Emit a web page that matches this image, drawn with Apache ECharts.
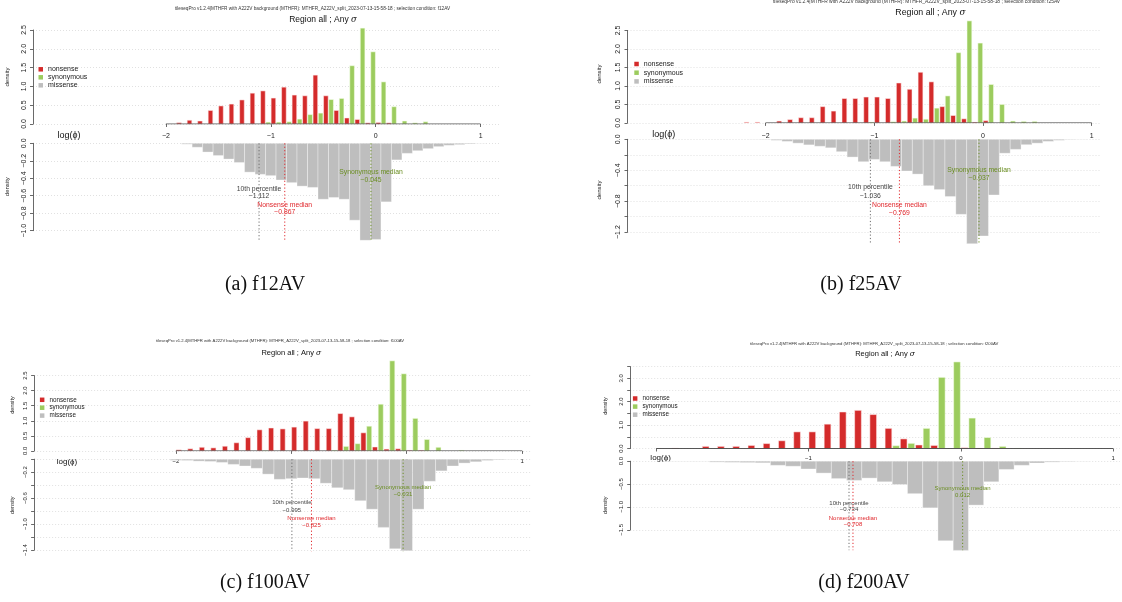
<!DOCTYPE html>
<html>
<head>
<meta charset="utf-8">
<script src="https://cdn.jsdelivr.net/npm/echarts@6/dist/echarts.min.js"></script>
<style>
  html, body { margin: 0; background: #fff; }
  #chart { width: 1122px; height: 602px; }
</style>
</head>
<body>
<div id="chart"></div>
<script>
// bin width of every histogram (log phi)
const BIN = 0.1;

// f12AV  (top bins start at -2.0, missense bins start at -1.85)
const f12Nonsense = [0, 0.035, 0.10, 0.08, 0.36, 0.48, 0.53, 0.64, 0.82, 0.88, 0.69, 0.98, 0.77, 0.75, 1.30, 0.75, 0.36, 0.16, 0.12, 0.03, 0.04, 0.03];
const f12Synonymous = [0, 0, 0, 0, 0, 0, 0, 0, 0, 0.05, 0.05, 0.06, 0.13, 0.25, 0.29, 0.65, 0.68, 1.55, 2.55, 1.92, 1.12, 0.46, 0.08, 0.03, 0.06];
const f12Missense = [-0.01, -0.045, -0.10, -0.14, -0.18, -0.22, -0.33, -0.355, -0.37, -0.42, -0.45, -0.49, -0.505, -0.64, -0.62, -0.64, -0.88, -1.11, -1.10, -0.67, -0.19, -0.115, -0.085, -0.061, -0.038, -0.023, -0.015, -0.008, -0.003];
const f12Marks = [-1.112, -0.867, -0.045];

// f25AV  (nonsense from -2.2, synonymous from -2.0, missense from -2.15)
const f25Nonsense = [0.02, 0.02, 0, 0.05, 0.09, 0.14, 0.14, 0.44, 0.32, 0.66, 0.66, 0.70, 0.70, 0.66, 1.08, 0.91, 1.37, 1.11, 0.44, 0.20, 0.11, 0.02, 0.06];
const f25Synonymous = [0, 0, 0, 0, 0, 0, 0, 0, 0, 0.02, 0, 0.03, 0.05, 0.13, 0.10, 0.40, 0.73, 1.90, 2.76, 2.16, 1.04, 0.50, 0.05, 0.04, 0.04];
const f25Missense = [-0.003, -0.005, -0.013, -0.027, -0.05, -0.072, -0.09, -0.11, -0.16, -0.23, -0.29, -0.26, -0.29, -0.35, -0.41, -0.45, -0.60, -0.65, -0.74, -0.97, -1.35, -1.25, -0.72, -0.18, -0.13, -0.07, -0.05, -0.027, -0.013, -0.005, -0.003];
const f25Marks = [-1.036, -0.769, -0.037];

// f100AV  (top from -2.0, missense from -2.05)
const f100Nonsense = [0.035, 0.07, 0.12, 0.10, 0.155, 0.27, 0.44, 0.70, 0.76, 0.73, 0.79, 0.99, 0.74, 0.74, 1.24, 1.13, 0.60, 0.13, 0.06, 0.07, 0.02, 0.02];
const f100Synonymous = [0, 0, 0, 0, 0, 0, 0, 0.01, 0, 0, 0, 0, 0, 0.02, 0.15, 0.24, 0.82, 1.55, 2.99, 2.56, 1.08, 0.38, 0.12, 0, 0.02];
const f100Missense = [-0.017, -0.02, -0.03, -0.035, -0.05, -0.08, -0.105, -0.14, -0.23, -0.31, -0.30, -0.29, -0.30, -0.37, -0.44, -0.47, -0.64, -0.77, -1.05, -1.38, -1.41, -0.77, -0.34, -0.18, -0.105, -0.06, -0.04, -0.02, -0.01, -0.005];
const f100Marks = [-0.995, -0.825, -0.031];

// f200AV  (top from -2.0, missense from -2.05)
const f200Nonsense = [0, 0.02, 0, 0.09, 0.09, 0.09, 0.13, 0.21, 0.33, 0.71, 0.71, 1.04, 1.56, 1.63, 1.45, 0.86, 0.41, 0.15, 0.13, 0, 0.03, 0.02, 0.02];
const f200Synonymous = [0, 0, 0, 0, 0, 0, 0, 0, 0, 0, 0, 0, 0.01, 0.01, 0.01, 0.12, 0.22, 0.86, 3.04, 3.70, 1.30, 0.47, 0.09, 0.01];
const f200Missense = [0, -0.005, -0.005, -0.005, -0.02, -0.025, -0.03, -0.035, -0.09, -0.11, -0.17, -0.26, -0.38, -0.42, -0.37, -0.45, -0.51, -0.71, -1.02, -1.74, -1.95, -0.96, -0.45, -0.18, -0.09, -0.04, -0.02, -0.01, -0.005];
const f200Marks = [-0.734, -0.708, 0.012];

// tick labels
const xTicks = [-2, -1, 0, 1];
const f200XLabels = [-1, 0, 1];
const topLabels = [0, 0.5, 1, 1.5, 2, 2.5];
const f200TopLabels = [0, 1, 2, 3];
const f12BottomLabels = [0, -0.2, -0.4, -0.6, -0.8, -1.0];
const f25BottomLabels = [0, -0.4, -0.8, -1.2];
const f100BottomLabels = [-0.2, -0.6, -1.0, -1.4];
const f200BottomLabels = [0, -0.5, -1.0, -1.5];

const markNames = ['10th percentile', 'Nonsense median', 'Synonymous median'];

const panels = [
  { name: 'f12AV', caption: '(a) f12AV',
    nonsense: f12Nonsense, nsFrom: -2.0, synonymous: f12Synonymous, synFrom: -2.0,
    missense: f12Missense, misFrom: -1.85, marks: f12Marks,
    xLabels: xTicks, topLabels: topLabels, bottomLabels: f12BottomLabels,
    topMax: 2.5, topInterval: 0.5, bottomMin: -1.0, bottomInterval: 0.2,
    zeroX: 375.7, ppu: 104.9, left: 33, right: 500,
    topY: 30, zeroY: 124, botTop: 143.3, botY: 230.7, lineEnd: 240.7,
    fs: 7, xMargin: 9, annotFs: 6.8, annotLh: 7.6, annotY: [192.5, 208.5, 176.2],
    sub: [312.5, 9, 4.7], title: [323, 20, 8.5], logphi: [69, 136, 9],
    density: [7, 77, 186.7, 6], legend: [38.5, 65.8, 1, 7] },
  { name: 'f25AV', caption: '(b) f25AV',
    nonsense: f25Nonsense, nsFrom: -2.2, synonymous: f25Synonymous, synFrom: -2.0,
    missense: f25Missense, misFrom: -2.15, marks: f25Marks,
    xLabels: xTicks, topLabels: topLabels, bottomLabels: f25BottomLabels,
    topMax: 2.5, topInterval: 0.5, bottomMin: -1.2, bottomInterval: 0.2,
    zeroX: 983, ppu: 108.7, left: 627.5, right: 1100,
    topY: 30.5, zeroY: 122.9, botTop: 139.3, botY: 232.1, lineEnd: 243.5,
    fs: 7, xMargin: 10, annotFs: 6.8, annotLh: 8.2, annotY: [191.7, 209, 174.4],
    sub: [916.5, 2, 4.9], title: [930.4, 12.5, 8.8], logphi: [663.8, 135, 9],
    density: [599.8, 74, 190, 6], legend: [634.3, 60.5, 1.7, 7] },
  { name: 'f100AV', caption: '(c) f100AV',
    nonsense: f100Nonsense, nsFrom: -2.0, synonymous: f100Synonymous, synFrom: -2.0,
    missense: f100Missense, misFrom: -2.05, marks: f100Marks,
    xLabels: xTicks, topLabels: topLabels, bottomLabels: f100BottomLabels,
    topMax: 2.5, topInterval: 0.5, bottomMin: -1.4, bottomInterval: 0.2,
    zeroX: 406.7, ppu: 115.4, left: 34.1, right: 531,
    topY: 375.6, zeroY: 450.9, botTop: 459.2, botY: 550.1, lineEnd: 551.2,
    fs: 6, xMargin: 7.4, annotFs: 6, annotLh: 7.5, annotY: [506.2, 521.8, 491],
    sub: [280, 341.1, 4.2], title: [291.3, 353, 7.5], logphi: [67, 461.3, 8],
    density: [12.6, 405, 505.3, 5.5], legend: [39.9, 396.3, 0.9, 6.3] },
  { name: 'f200AV', caption: '(d) f200AV',
    nonsense: f200Nonsense, nsFrom: -2.0, synonymous: f200Synonymous, synFrom: -2.0,
    missense: f200Missense, misFrom: -2.05, marks: f200Marks,
    xLabels: f200XLabels, topLabels: f200TopLabels, bottomLabels: f200BottomLabels,
    topMax: 3.5, topInterval: 0.5, bottomMin: -1.5, bottomInterval: 0.5,
    zeroX: 960.8, ppu: 152.3, left: 630.2, right: 1120,
    topY: 366.6, zeroY: 448.5, botTop: 461.2, botY: 529.8, lineEnd: 550.2,
    fs: 6, xMargin: 6.4, annotFs: 6, annotLh: 6.4, annotY: [506.6, 521.5, 492],
    sub: [874.2, 344.3, 4.2], title: [885, 354, 7.5], logphi: [660.6, 457.9, 8],
    density: [605, 406, 505.2, 5.5], legend: [632.9, 395, 1.1, 6.3] }
];

const captionPos = [[265, 285], [861, 285], [265, 583], [864, 583]];

const RED = '#d42b2b', GREEN = '#9ccc5e', GREY = '#bebebe';
const markColors = ['#6e6e6e', '#e0282d', '#6b8e23'];
const markText = ['#444444', '#e0282d', '#6b8e23'];
const FONT = 'Liberation Sans, Arial, sans-serif';

const minus = s => s.replace('-', '\u2212');
const fmt1 = v => minus(Number(v).toFixed(1));
const fmtX = v => minus(String(Math.round(v)));
const fmt3 = v => minus(v.toFixed(3));

function histSeries(name, values, from, gi, lo, hi, color, stroke) {
  return {
    type: 'custom', name, xAxisIndex: gi, yAxisIndex: gi, clip: false, z: 2,
    itemStyle: { color },
    encode: { x: 0, y: 1 },
    data: values.map((v, i) => [Math.round((from + i * BIN) * 100) / 100, v]),
    renderItem(params, api) {
      const x = api.value(0), v = api.value(1);
      if (!v) return null;
      const a = api.coord([x + BIN * lo, v]);
      const b = api.coord([x + BIN * hi, 0]);
      return {
        type: 'rect',
        shape: { x: a[0], y: Math.min(a[1], b[1]), width: b[0] - a[0], height: Math.abs(b[1] - a[1]) },
        style: { fill: color, stroke, lineWidth: 0.6 }
      };
    }
  };
}

function markSeries(p, gi) {
  return {
    type: 'custom', xAxisIndex: gi, yAxisIndex: gi, clip: false, z: 4, silent: true,
    encode: { x: 0 },
    data: p.marks.map((v, i) => [v, i]),
    renderItem(params, api) {
      const v = api.value(0), i = api.value(1);
      const pt = api.coord([v, 0]);
      return {
        type: 'group',
        children: [
          { type: 'line', shape: { x1: pt[0], y1: pt[1], x2: pt[0], y2: p.lineEnd },
            style: { stroke: markColors[i], lineWidth: 1, lineDash: [1.2, 2.2] } },
          { type: 'text', x: pt[0], y: p.annotY[i],
            style: { text: markNames[i] + '\n' + fmt3(v), fill: markText[i], fontSize: p.annotFs,
              fontFamily: FONT, lineHeight: p.annotLh, align: 'center', verticalAlign: 'middle' } }
        ]
      };
    }
  };
}

const grid = [], xAxis = [], yAxis = [], series = [], legend = [], graphic = [];

panels.forEach((p, k) => {
  const gt = 2 * k, gb = 2 * k + 1;
  const xmin = (p.left - p.zeroX) / p.ppu;
  const xmax = (p.right - p.zeroX) / p.ppu;
  const width = p.right - p.left;
  const axisColor = '#444';
  const split = { show: true, lineStyle: { color: '#d4d4d4', width: 0.7, type: [1, 2] } };

  grid.push({ left: p.left, top: p.topY, width, height: p.zeroY - p.topY });
  grid.push({ left: p.left, top: p.botTop, width, height: p.botY - p.botTop });

  xAxis.push({
    gridIndex: gt, type: 'value', min: xmin, max: xmax,
    axisLine: { show: false, onZero: false },
    axisTick: { show: true, customValues: xTicks, length: 3, lineStyle: { color: axisColor, width: 0.8 } },
    axisLabel: { customValues: p.xLabels, formatter: fmtX, fontSize: p.fs, color: '#222', fontFamily: FONT, margin: p.xMargin },
    splitLine: { show: false }
  });
  xAxis.push({ gridIndex: gb, type: 'value', min: xmin, max: xmax, show: false, axisLine: { onZero: false } });

  const yCommon = {
    type: 'value',
    axisLine: { show: true, onZero: false, lineStyle: { color: axisColor, width: 0.8 } },
    axisTick: { show: true, length: 3, lineStyle: { color: axisColor, width: 0.8 } },
    splitLine: split
  };
  yAxis.push(Object.assign({}, yCommon, {
    gridIndex: gt, min: 0, max: p.topMax, interval: p.topInterval,
    axisLabel: { customValues: p.topLabels, formatter: fmt1, rotate: 90, fontSize: p.fs, color: '#222', fontFamily: FONT, margin: 5.5 }
  }));
  yAxis.push(Object.assign({}, yCommon, {
    gridIndex: gb, min: p.bottomMin, max: 0, interval: p.bottomInterval,
    axisLabel: { customValues: p.bottomLabels, formatter: fmt1, rotate: 90, fontSize: p.fs, color: '#222', fontFamily: FONT, margin: 5.5 }
  }));

  series.push(histSeries('nonsense', p.nonsense, p.nsFrom, gt, 0.03, 0.47, RED, 'rgba(255,235,235,0.9)'));
  series.push(histSeries('synonymous', p.synonymous, p.synFrom, gt, 0.53, 0.97, GREEN, 'rgba(245,255,235,0.9)'));
  series.push(histSeries('missense', p.missense, p.misFrom, gb, 0, 1, GREY, 'rgba(255,255,255,0.55)'));
  series.push({
    type: 'line', xAxisIndex: gt, yAxisIndex: gt, silent: true, z: 3, symbol: 'none',
    data: [[xTicks[0], 0], [xTicks[xTicks.length - 1], 0]],
    lineStyle: { color: axisColor, width: 0.9 }
  });
  series.push(markSeries(p, gb));

  legend.push({
    left: p.legend[0], top: p.legend[1], orient: 'vertical', icon: 'rect', padding: 0,
    itemWidth: 4.5, itemHeight: 4.5, itemGap: p.legend[2], selectedMode: false,
    textStyle: { fontSize: p.legend[3], lineHeight: 7, color: '#222', fontFamily: FONT },
    data: ['nonsense', 'synonymous', 'missense']
  });

  const sub = 'tileseqPro v1.2.4|MTHFR with A222V background (MTHFR): MTHFR_A222V_split_2023-07-13-15-58-18 ; selection condition: ' + p.name;
  graphic.push({ type: 'text', x: p.sub[0], y: p.sub[1],
    style: { text: sub, fontSize: p.sub[2], fill: '#333', fontFamily: FONT, align: 'center', verticalAlign: 'middle' } });
  graphic.push({ type: 'text', x: p.title[0], y: p.title[1],
    style: { text: 'Region all ; Any {s|\u03c3}', fontSize: p.title[2], fill: '#111', fontFamily: FONT,
      align: 'center', verticalAlign: 'middle',
      rich: { s: { fontStyle: 'italic', fontSize: p.title[2], fontFamily: 'DejaVu Serif', fill: '#111' } } } });
  graphic.push({ type: 'text', x: p.logphi[0], y: p.logphi[1],
    style: { text: 'log(\u03d5)', fontSize: p.logphi[2], fill: '#111', fontFamily: FONT, align: 'center', verticalAlign: 'middle' } });
  [p.density[1], p.density[2]].forEach(y => {
    graphic.push({ type: 'text', x: p.density[0], y, rotation: Math.PI / 2,
      style: { text: 'density', fontSize: p.density[3], fill: '#222', fontFamily: FONT, align: 'center', verticalAlign: 'middle' } });
  });
  graphic.push({ type: 'text', x: captionPos[k][0], y: captionPos[k][1],
    style: { text: p.caption, fontSize: 20, fill: '#111', fontFamily: 'Liberation Serif, serif', align: 'center', verticalAlign: 'middle' } });
});

const chart = echarts.init(document.getElementById('chart'), null, { renderer: 'canvas' });
chart.setOption({
  animation: false,
  backgroundColor: '#ffffff',
  grid, xAxis, yAxis, series, legend,
  graphic: { elements: graphic }
});
</script>
</body>
</html>
